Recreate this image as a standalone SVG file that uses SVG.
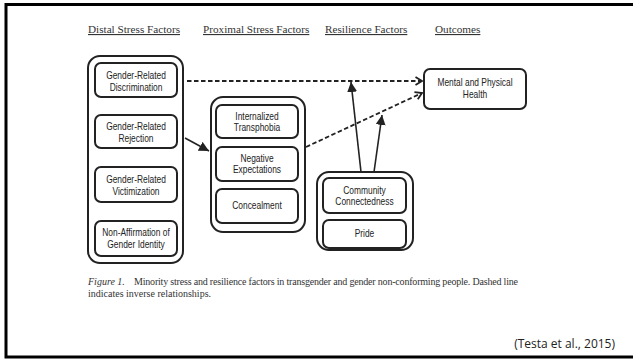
<svg xmlns="http://www.w3.org/2000/svg" width="633" height="360" viewBox="0 0 633 360">
<style>
.hdr{font-family:"Liberation Serif","Times New Roman",serif;font-size:11.2px;fill:#333;text-decoration:underline}
.outer{fill:#fff;stroke:#222;stroke-width:2}
.inner{fill:#fff;stroke:#222;stroke-width:2}
.lbl{font-family:"Liberation Sans","Arial",sans-serif;font-size:10.5px;fill:#222;text-anchor:middle}
.cap{font-family:"Liberation Serif","Times New Roman",serif;font-size:10px;fill:#333}
.dash{fill:none;stroke:#222;stroke-width:1.8;stroke-dasharray:4.5 2.5}
.solid{fill:none;stroke:#222;stroke-width:1.6}
</style>
<defs>
<marker id="chev" markerWidth="9" markerHeight="10" refX="7.5" refY="5" orient="auto" markerUnits="userSpaceOnUse">
<path d="M1,1 L7.5,5 L1,9" fill="none" stroke="#222" stroke-width="1.8"/>
</marker>
<marker id="tri" markerWidth="11" markerHeight="10" refX="10" refY="5" orient="auto" markerUnits="userSpaceOnUse">
<path d="M0,0 L10,5 L0,10 Z" fill="#222"/>
</marker>
</defs>
<rect x="0" y="0" width="633" height="360" fill="#fff"/>
<rect x="6" y="4.5" width="700" height="352.5" fill="none" stroke="#000" stroke-width="3"/>

<g id="headers">
<text class="hdr" x="88" y="33">Distal Stress Factors</text>
<text class="hdr" x="203" y="33">Proximal Stress Factors</text>
<text class="hdr" x="325" y="33">Resilience Factors</text>
<text class="hdr" x="435" y="33">Outcomes</text>
</g>

<g id="distal">
<rect class="outer" x="88" y="56" width="95" height="207" rx="12"/>
</g>
<g id="discrimination">
<rect class="inner" x="95" y="63" width="82" height="34" rx="6"/>
<g transform="translate(136,0) scale(0.8,1)">
<text class="lbl" x="0" y="79">Gender-Related</text>
<text class="lbl" x="0" y="91">Discrimination</text>
</g>
</g>
<g id="rejection">
<rect class="inner" x="95" y="115" width="82" height="33" rx="6"/>
<g transform="translate(136,0) scale(0.8,1)">
<text class="lbl" x="0" y="130.5">Gender-Related</text>
<text class="lbl" x="0" y="142">Rejection</text>
</g>
</g>
<g id="victimization">
<rect class="inner" x="95" y="167" width="82" height="35" rx="6"/>
<g transform="translate(136,0) scale(0.8,1)">
<text class="lbl" x="0" y="183">Gender-Related</text>
<text class="lbl" x="0" y="195">Victimization</text>
</g>
</g>
<g id="nonaffirmation">
<rect class="inner" x="95" y="221" width="82" height="35" rx="6"/>
<g transform="translate(136,0) scale(0.8,1)">
<text class="lbl" x="0" y="236">Non-Affirmation of</text>
<text class="lbl" x="0" y="248">Gender Identity</text>
</g>
</g>

<g id="proximal">
<rect class="outer" x="211" y="97" width="94" height="135" rx="12"/>
</g>
<g id="transphobia">
<rect class="inner" x="216" y="105" width="82" height="33" rx="6"/>
<g transform="translate(257,0) scale(0.8,1)">
<text class="lbl" x="0" y="120">Internalized</text>
<text class="lbl" x="0" y="131.5">Transphobia</text>
</g>
</g>
<g id="expectations">
<rect class="inner" x="216" y="147" width="82" height="34" rx="6"/>
<g transform="translate(257,0) scale(0.8,1)">
<text class="lbl" x="0" y="162">Negative</text>
<text class="lbl" x="0" y="173.5">Expectations</text>
</g>
</g>
<g id="concealment">
<rect class="inner" x="216" y="189" width="82" height="34" rx="6"/>
<g transform="translate(257,0) scale(0.8,1)">
<text class="lbl" x="0" y="209.5">Concealment</text>
</g>
</g>

<g id="resilience">
<rect class="outer" x="317" y="172" width="96" height="78" rx="12"/>
</g>
<g id="community">
<rect class="inner" x="323" y="178" width="83" height="35" rx="6"/>
<g transform="translate(364.5,0) scale(0.8,1)">
<text class="lbl" x="0" y="194">Community</text>
<text class="lbl" x="0" y="205.5">Connectedness</text>
</g>
</g>
<g id="pride">
<rect class="inner" x="323" y="220" width="83" height="28" rx="6"/>
<g transform="translate(364.5,0) scale(0.8,1)">
<text class="lbl" x="0" y="237.5">Pride</text>
</g>
</g>

<g id="health">
<rect class="inner" x="424" y="69" width="102" height="40" rx="6"/>
<g transform="translate(475,0) scale(0.8,1)">
<text class="lbl" x="0" y="86">Mental and Physical</text>
<text class="lbl" x="0" y="98">Health</text>
</g>
</g>

<g id="connectors">
<line class="dash" x1="187" y1="81" x2="422" y2="81" marker-end="url(#chev)"/>
<line class="dash" x1="306" y1="147" x2="422" y2="93" marker-end="url(#chev)"/>
<line class="solid" x1="185" y1="138" x2="209" y2="151" marker-end="url(#tri)"/>
<line class="solid" x1="361" y1="172" x2="351" y2="82" marker-end="url(#tri)"/>
<line class="solid" x1="374" y1="172" x2="382" y2="115" marker-end="url(#tri)"/>
</g>

<g id="caption">
<text class="cap" x="88" y="285"><tspan font-style="italic">Figure 1.</tspan><tspan x="134" textLength="384" lengthAdjust="spacing">Minority stress and resilience factors in transgender and gender non-conforming people. Dashed line</tspan></text>
<text class="cap" x="88" y="297">indicates inverse relationships.</text>
</g>
<text x="615" y="348" text-anchor="end" font-family="'Open Sans','Liberation Sans',sans-serif" font-size="12" fill="#222">(Testa et al., 2015)</text>
</svg>
